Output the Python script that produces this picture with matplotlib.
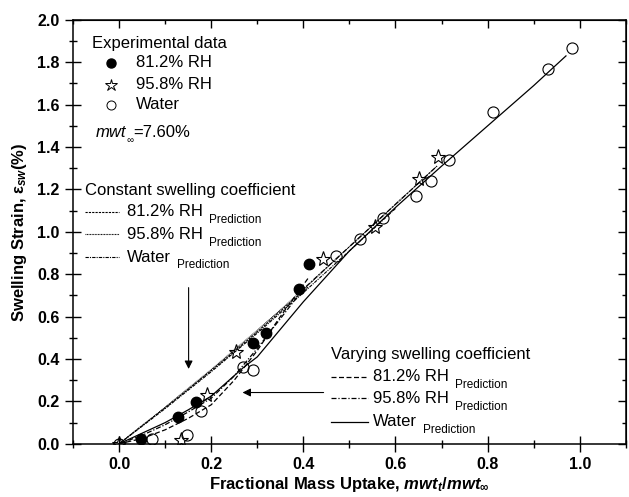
import matplotlib
matplotlib.use('Agg')
import matplotlib.pyplot as plt
from matplotlib.ticker import MultipleLocator

plt.rcParams['font.family'] = ['Liberation Sans', 'DejaVu Sans']
plt.rcParams['mathtext.fontset'] = 'custom'
plt.rcParams['mathtext.rm'] = 'Liberation Sans'
plt.rcParams['mathtext.it'] = 'Liberation Sans:italic'
plt.rcParams['mathtext.bf'] = 'Liberation Sans:bold'
plt.rcParams['mathtext.bfit'] = 'Liberation Sans:italic:bold'

# Datos experimentales
rh81_x = [0.047, 0.128, 0.168, 0.291, 0.319, 0.391, 0.412]
rh81_y = [0.022, 0.126, 0.198, 0.475, 0.525, 0.730, 0.848]
rh95_x = [0.0, 0.134, 0.190, 0.254, 0.443, 0.556, 0.651, 0.692]
rh95_y = [0.0, 0.019, 0.231, 0.435, 0.871, 1.022, 1.249, 1.351]
water_x = [0.0, 0.072, 0.147, 0.178, 0.268, 0.291, 0.470, 0.522, 0.573, 0.645, 0.678, 0.717, 0.812, 0.931, 0.983]
water_y = [0.0, 0.024, 0.041, 0.156, 0.362, 0.346, 0.887, 0.966, 1.064, 1.167, 1.240, 1.340, 1.566, 1.770, 1.865]

# Prediccion - coeficiente constante
c81_x = [0, 0.05, 0.1, 0.15, 0.2, 0.25, 0.3, 0.35, 0.41]
c81_y = [0, 0.085, 0.17, 0.257, 0.345, 0.435, 0.528, 0.625, 0.74]
c95_x = [0, 0.1, 0.2, 0.3, 0.4, 0.5, 0.6, 0.69]
c95_y = [0, 0.172, 0.35, 0.535, 0.728, 0.93, 1.13, 1.31]
cw_x = [0, 0.1, 0.2, 0.3, 0.4, 0.5, 0.6]
cw_y = [0, 0.166, 0.34, 0.522, 0.713, 0.91, 1.11]

# Prediccion - coeficiente variable
v81_x = [0, 0.05, 0.1, 0.15, 0.2, 0.25, 0.3, 0.35, 0.41]
v81_y = [0, 0.025, 0.066, 0.12, 0.184, 0.30, 0.44, 0.60, 0.78]
v95_x = [0, 0.05, 0.1, 0.15, 0.2, 0.25, 0.3, 0.35, 0.4, 0.5, 0.6, 0.69]
v95_y = [0, 0.04, 0.09, 0.15, 0.215, 0.32, 0.45, 0.59, 0.73, 0.93, 1.13, 1.31]
vw_x = [0, 0.05, 0.1, 0.15, 0.2, 0.27, 0.3, 0.35, 0.4, 0.5, 0.6, 0.7, 0.8, 0.9, 0.97]
vw_y = [0, 0.05, 0.10, 0.16, 0.225, 0.36, 0.41, 0.54, 0.67, 0.91, 1.115, 1.31, 1.50, 1.69, 1.83]

fig = plt.figure(figsize=(6.29, 4.97), dpi=100)
ax = fig.add_axes([0.116, 0.107, 0.879, 0.853])

lw = 0.9
clw = 0.8
d81c = (2, 1)
d95c = (0.8, 0.6)
dwc = (3, 1, 1, 1)
ax.plot(c81_x, c81_y, color='k', lw=clw, dashes=d81c)
ax.plot(c95_x, c95_y, color='k', lw=clw, dashes=d95c)
ax.plot(cw_x, cw_y, color='k', lw=clw, dashes=dwc)
ax.plot(v81_x, v81_y, color='k', lw=lw, dashes=(4, 2))
ax.plot(v95_x, v95_y, color='k', lw=lw, dashes=(4, 1.5, 1, 1.5))
ax.plot(vw_x, vw_y, color='k', lw=lw)

ax.plot(rh81_x, rh81_y, 'o', color='k', ms=7.5, ls='none')
ax.plot(rh95_x, rh95_y, '*', mfc='none', mec='k', mew=0.8, ms=11, ls='none')
ax.plot(water_x, water_y, 'o', mfc='none', mec='k', mew=0.8, ms=8, ls='none')

ax.set_xlim(-0.1, 1.1)
ax.set_ylim(0, 2.0)
ax.set_xticks([0.0, 0.2, 0.4, 0.6, 0.8, 1.0])
ax.xaxis.set_minor_locator(MultipleLocator(0.1))
ax.yaxis.set_major_locator(MultipleLocator(0.2))
ax.yaxis.set_minor_locator(MultipleLocator(0.1))
ax.tick_params(which='major', direction='inout', length=12, width=1, labelsize=11.5)
ax.tick_params(which='minor', direction='inout', length=6, width=1)
for lab in ax.get_xticklabels() + ax.get_yticklabels():
    lab.set_fontweight('bold')
for s in ax.spines.values():
    s.set_linewidth(1.1)

# ticks hacia dentro arriba y a la derecha
top = ax.secondary_xaxis('top')
top.set_xticks([0.0, 0.2, 0.4, 0.6, 0.8, 1.0])
top.xaxis.set_minor_locator(MultipleLocator(0.1))
top.tick_params(which='major', direction='in', length=6, width=1, labeltop=False)
top.tick_params(which='minor', direction='in', length=3, width=1)
right = ax.secondary_yaxis('right')
right.yaxis.set_major_locator(MultipleLocator(0.2))
right.yaxis.set_minor_locator(MultipleLocator(0.1))
right.tick_params(which='major', direction='in', length=6, width=1, labelright=False)
right.tick_params(which='minor', direction='in', length=3, width=1)

ax.set_xlabel(r'Fractional Mass Uptake, $\mathbfit{mwt}_{\mathbfit{t}}\mathbf{/}\mathbfit{mwt}_{\mathbf{\infty}}$',
              fontsize=12, fontweight='bold', labelpad=2)
ax.set_ylabel(r'Swelling Strain, ε${}_{\mathbfit{sw}}$(%)', fontsize=12, fontweight='bold', labelpad=6)

# Leyenda experimental (manual)
fs = 12
ax.text(-0.059, 1.89, 'Experimental data', fontsize=fs, va='center')
ax.plot(-0.018, 1.797, 'o', color='k', ms=6.5, clip_on=False)
ax.plot(-0.018, 1.693, '*', mfc='none', mec='k', mew=0.7, ms=9, clip_on=False)
ax.plot(-0.018, 1.599, 'o', mfc='none', mec='k', mew=0.7, ms=6.5, clip_on=False)
ax.text(0.036, 1.797, '81.2% RH', fontsize=fs, va='center')
ax.text(0.036, 1.693, '95.8% RH', fontsize=fs, va='center')
ax.text(0.036, 1.599, 'Water', fontsize=fs, va='center')
t = ax.text(-0.051, 1.468, 'mwt', fontsize=fs, va='center', style='italic')
t2 = ax.annotate('∞', xy=(1, 0.5), xycoords=t, xytext=(0.5, -5), textcoords='offset points',
                 fontsize=7, va='center', style='italic')
ax.annotate('=7.60%', xy=(1, 0.5), xycoords=t2, xytext=(-0.5, 5), textcoords='offset points',
            fontsize=fs, va='center')


def pred_label(x, y, lab):
    tt = ax.text(x, y, lab, fontsize=fs, va='center')
    ax.annotate('Prediction', xy=(1, 0.5), xycoords=tt, xytext=(4, -6),
                textcoords='offset points', fontsize=8.5, va='center')


# Leyenda coeficiente constante
ax.text(-0.074, 1.195, 'Constant swelling coefficient', fontsize=fs, va='center')
const_rows = [(1.096, '81.2% RH', d81c), (0.989, '95.8% RH', d95c), (0.881, 'Water', dwc)]
for yy, lab, dsh in const_rows:
    ax.plot([-0.074, -0.0], [yy, yy], color='k', lw=clw, dashes=dsh)
    pred_label(0.018, yy, lab)

# Leyenda coeficiente variable
ax.text(0.46, 0.42, 'Varying swelling coefficient', fontsize=fs, va='center')
vary_rows = [(0.317, '81.2% RH', (4, 2)), (0.215, '95.8% RH', (4, 1.5, 1, 1.5)), (0.105, 'Water', None)]
for yy, lab, dsh in vary_rows:
    if dsh is None:
        ax.plot([0.46, 0.54], [yy, yy], color='k', lw=lw)
    else:
        ax.plot([0.46, 0.54], [yy, yy], color='k', lw=lw, dashes=dsh)
    pred_label(0.552, yy, lab)

# Flechas
ax.annotate('', xy=(0.151, 0.34), xytext=(0.151, 0.75),
            arrowprops=dict(arrowstyle='-|>', color='k', lw=0.8, mutation_scale=12))
ax.annotate('', xy=(0.262, 0.242), xytext=(0.45, 0.242),
            arrowprops=dict(arrowstyle='-|>', color='k', lw=0.8, mutation_scale=12))

plt.savefig('out.png', dpi=100)
